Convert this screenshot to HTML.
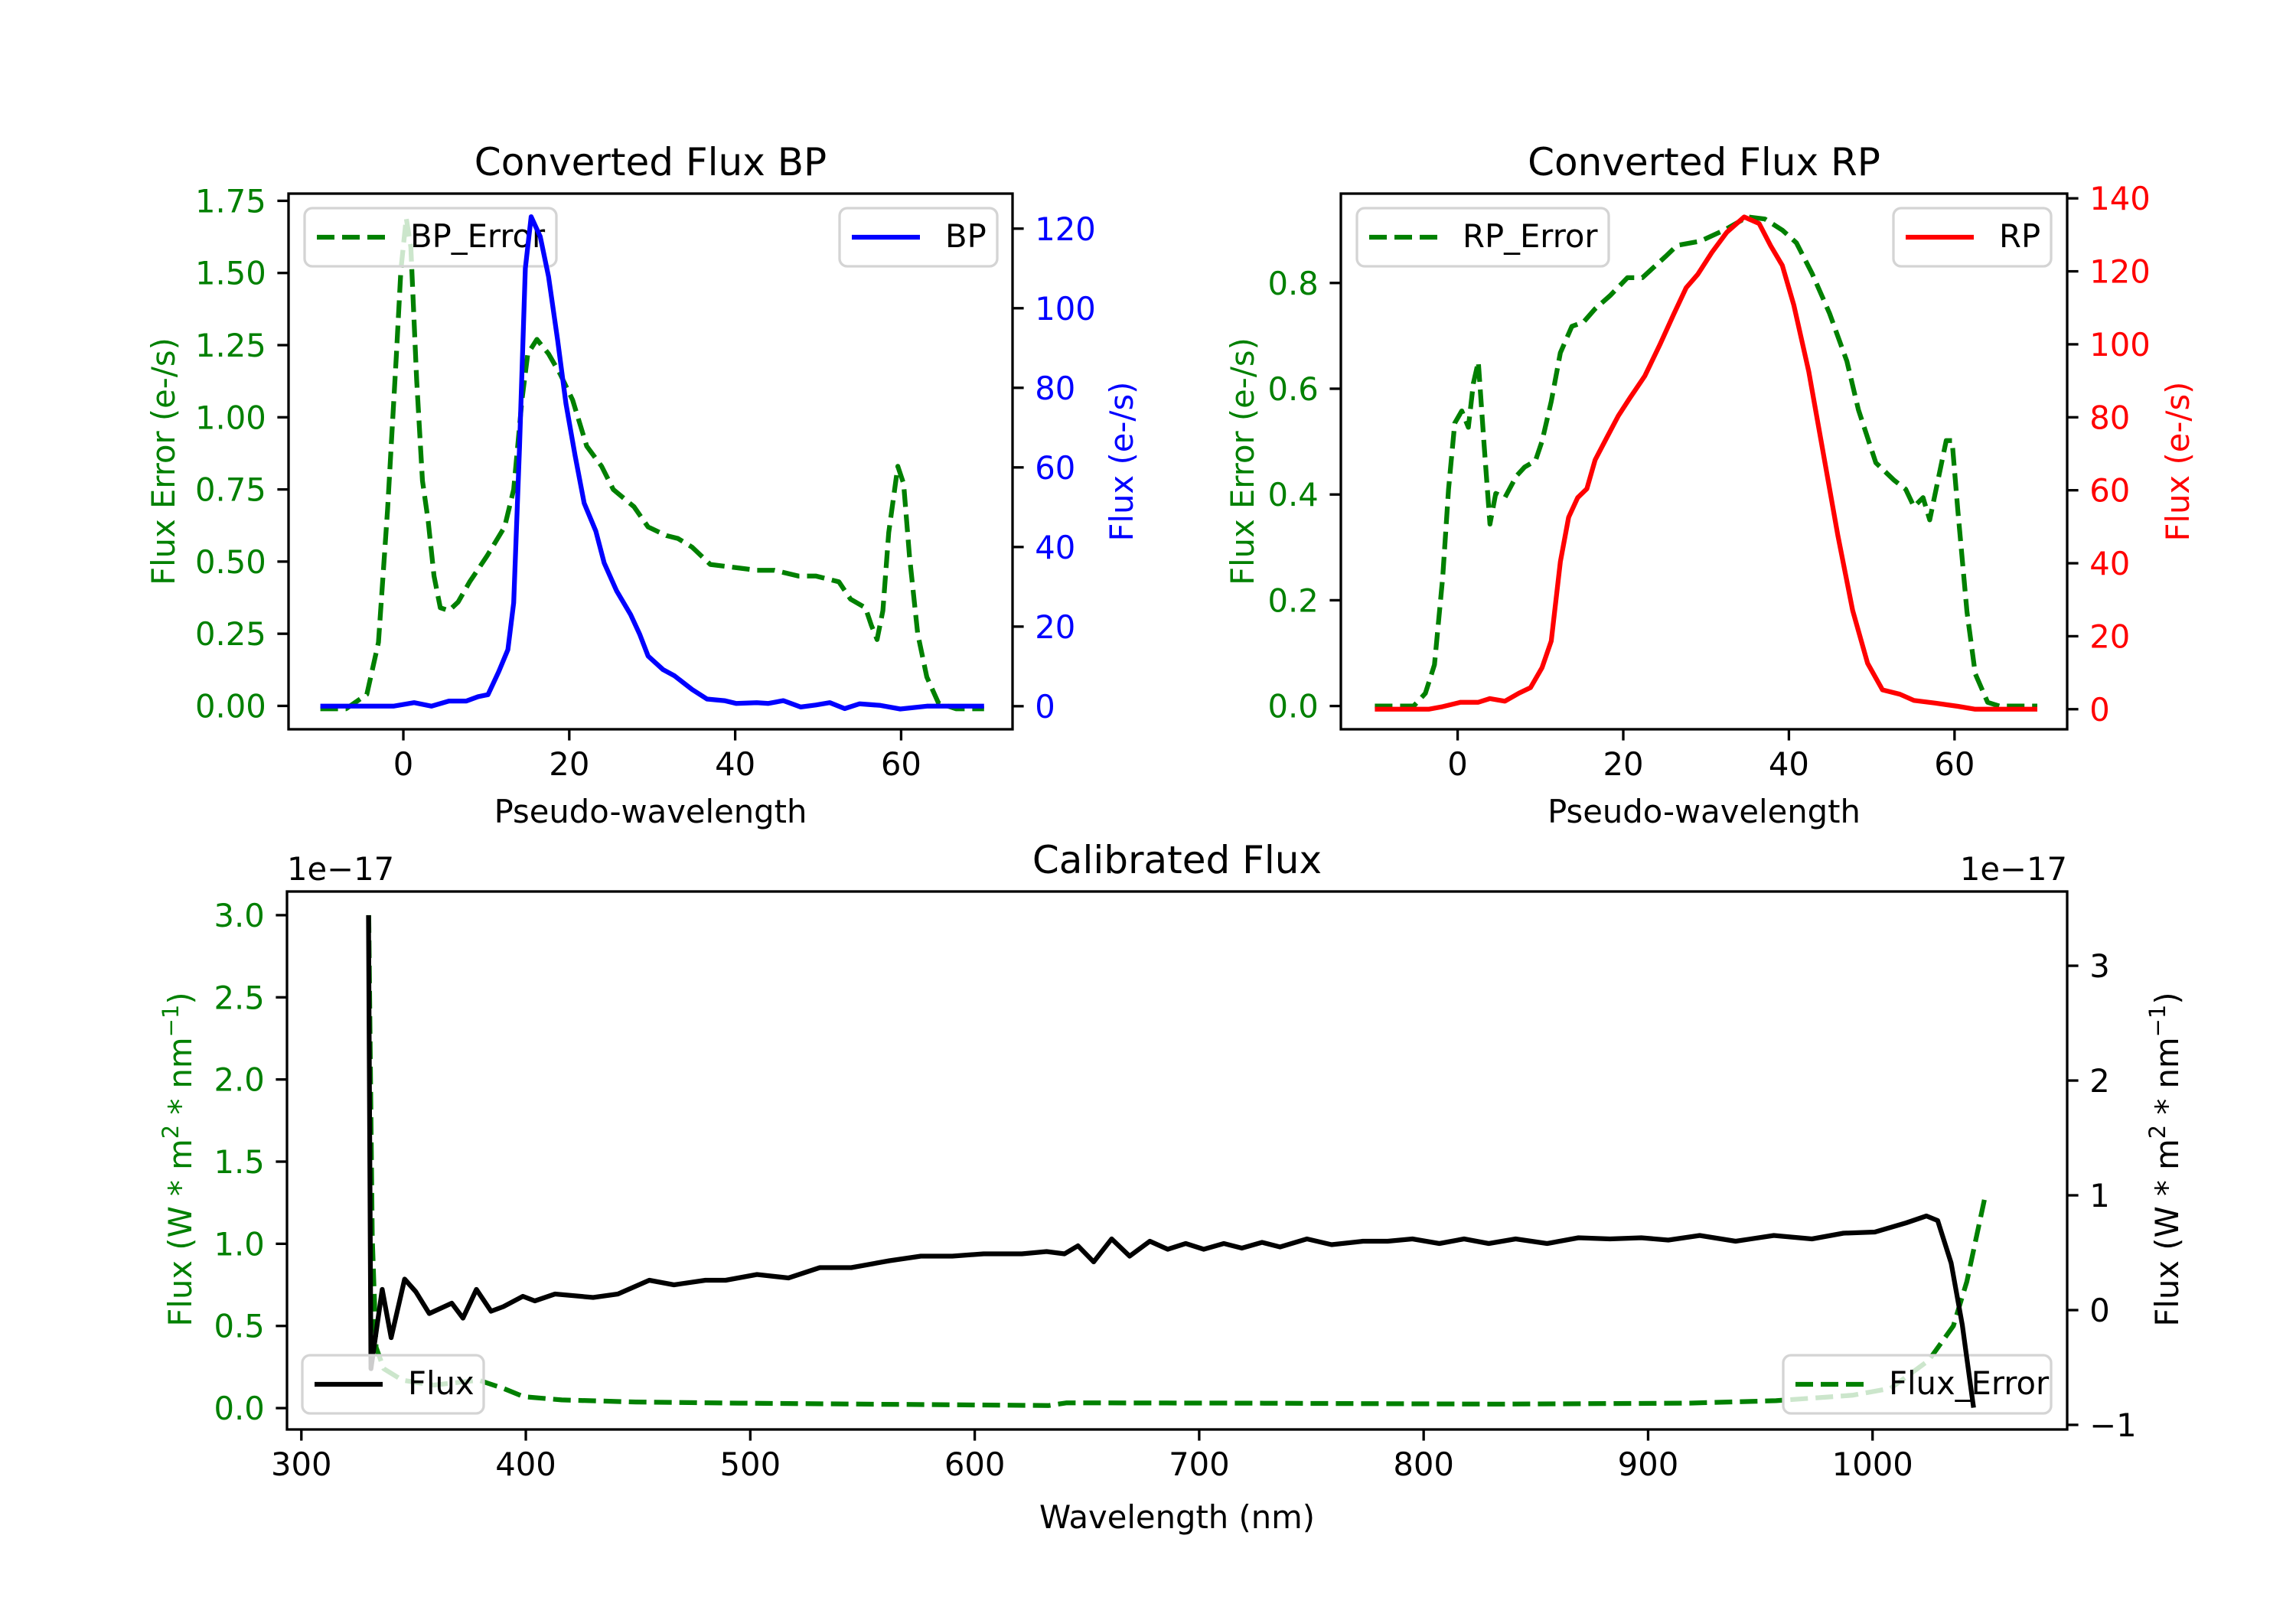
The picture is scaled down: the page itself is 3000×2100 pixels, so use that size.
<!DOCTYPE html>
<html><head><meta charset="utf-8"><style>
html,body{margin:0;padding:0;background:#fff}
svg{display:block;font-family:"DejaVu Sans","Liberation Sans",sans-serif}
</style></head><body>
<svg id="fig" xmlns="http://www.w3.org/2000/svg" width="3000" height="2100" viewBox="0 0 3000 2100"></svg>
<script>
// ---- BP panel data ----
const bpErrX=[-10,-6.9,-4.4,-3.0,-1.9,-0.85,-0.3,0.35,0.9,1.6,2.3,3.0,3.7,4.45,5.5,6.6,8.0,10.1,12.2,13.3,14.3,15.0,16.1,17.5,18.9,20.4,22.1,23.9,25.3,27.8,29.5,31.7,33.1,34.8,37.0,39.8,42.6,44.7,47.6,49.7,52.5,53.9,55.7,56.4,57.1,57.8,58.5,59.6,60.3,61.0,62.0,63.1,64.5,66.6,70];
const bpErrY=[-0.01,-0.01,0.04,0.22,0.68,1.21,1.51,1.69,1.59,1.13,0.78,0.64,0.45,0.34,0.33,0.36,0.43,0.52,0.62,0.75,1.06,1.22,1.27,1.22,1.15,1.06,0.90,0.83,0.75,0.69,0.62,0.59,0.58,0.55,0.49,0.48,0.47,0.47,0.45,0.45,0.43,0.37,0.34,0.28,0.23,0.33,0.60,0.83,0.77,0.52,0.25,0.10,0.01,-0.01,-0.01];
const bpX=[-10,-1.2,1.3,3.4,5.5,7.6,9.0,10.2,11.5,12.6,13.3,14.0,14.7,15.4,16.5,17.5,18.6,19.6,20.7,21.8,23.2,24.2,25.7,27.4,28.5,29.5,31.3,32.7,34.8,36.6,38.7,40.1,42.6,44.0,45.8,47.9,49.7,51.4,53.2,55.0,57.5,59.9,63.1,70];
const bpY=[0,0,0.9,0,1.3,1.3,2.4,2.9,8.7,14.2,26,65,110,123,118,108,92,76,63,51,44,36,29,23,18,12.6,9.2,7.6,4.2,1.8,1.4,0.7,0.9,0.7,1.4,-0.2,0.3,0.9,-0.6,0.6,0.2,-0.7,0,0];
const bpXTicks=[0,20,40,60];
const bpLTicks=[0,0.25,0.5,0.75,1.0,1.25,1.5,1.75];
const bpLLabels=["0.00","0.25","0.50","0.75","1.00","1.25","1.50","1.75"];
const bpRTicks=[0,20,40,60,80,100,120];
// ---- RP panel data ----
const rpErrX=[-10,-5.3,-3.9,-2.8,-1.8,-1.1,-0.35,0.5,1.3,1.9,2.5,3.2,3.9,4.6,5.7,7.1,8.1,9.4,10.2,11.3,12.4,13.8,15.2,16.6,18.4,20.5,22.3,23.7,25.1,26.5,29.3,32.2,35.0,37.1,39.2,40.9,42.8,44.9,47.0,48.4,50.5,52.7,54.1,55.1,56.2,57.0,58.0,59.0,59.7,60.4,61.5,62.5,64.0,65.4,70];
const rpErrY=[0,0,0.024,0.078,0.244,0.41,0.535,0.558,0.527,0.61,0.651,0.493,0.344,0.402,0.394,0.435,0.452,0.464,0.501,0.576,0.668,0.718,0.726,0.751,0.776,0.81,0.81,0.83,0.85,0.871,0.879,0.9,0.925,0.921,0.9,0.876,0.818,0.743,0.652,0.56,0.46,0.427,0.41,0.377,0.394,0.352,0.427,0.502,0.502,0.369,0.178,0.061,0.007,0,0];
const rpX=[-10,-3.5,-1.8,0.35,2.5,3.9,5.7,7.4,8.8,10.2,11.3,12.4,13.4,14.5,15.6,16.6,18.0,19.4,20.8,22.6,24.4,26.1,27.6,29.0,30.7,32.5,34.6,36.4,37.8,39.2,40.6,42.4,44.2,45.9,47.7,49.5,51.3,53.4,55.1,57.6,60.4,62.5,70];
const rpY=[0,0,0.7,1.9,1.9,2.9,2.2,4.4,5.9,11.4,18.7,40.4,52.6,58,60.4,68.3,74.4,80.4,85.3,91.3,99.8,108.3,115.5,119.2,125.2,130.7,134.9,133.1,127,121.6,110.7,92.5,69.5,47.7,27.1,12.6,5.3,4.1,2.4,1.7,0.8,0,0];
const rpXTicks=[0,20,40,60];
const rpLTicks=[0,0.2,0.4,0.6,0.8];
const rpLLabels=["0.0","0.2","0.4","0.6","0.8"];
const rpRTicks=[0,20,40,60,80,100,120,140];
// ---- Calibrated panel data ----
const calX=[329.9,331,336,340,346,351,357,367,372,378,384.5,390,398.7,404,413,430,441,455,466,480,489,503,517,531,545,562,576,590,604,621,632,640,646,653,661,669,678,686,694,702,711,719,728,736,748,759,773,784,795,807,818,829,841,855,869,883,897,909,923,939,956,973,987,1001,1015,1024,1029,1035,1040,1045];
const calY=[3.44,-0.51,0.18,-0.24,0.27,0.16,-0.03,0.06,-0.07,0.18,-0.01,0.03,0.12,0.08,0.14,0.11,0.14,0.26,0.22,0.26,0.26,0.31,0.28,0.37,0.37,0.43,0.47,0.47,0.49,0.49,0.51,0.49,0.56,0.42,0.62,0.47,0.60,0.53,0.58,0.53,0.58,0.54,0.59,0.55,0.62,0.57,0.60,0.60,0.62,0.58,0.62,0.58,0.62,0.58,0.63,0.62,0.63,0.61,0.65,0.60,0.65,0.62,0.67,0.68,0.76,0.82,0.78,0.41,-0.13,-0.85];
const calErrX=[330,331.6,333.3,336.7,345,359,379,390,399,416,449,495,551,633,641,720,833,918,957,991,1008,1025,1036,1042,1050];
const calErrY=[3.0,1.04,0.37,0.24,0.17,0.14,0.17,0.12,0.07,0.05,0.037,0.03,0.024,0.016,0.032,0.03,0.024,0.03,0.045,0.078,0.12,0.29,0.5,0.77,1.28];
const calXTicks=[300,400,500,600,700,800,900,1000];
const calLTicks=[0,0.5,1.0,1.5,2.0,2.5,3.0];
const calLLabels=["0.0","0.5","1.0","1.5","2.0","2.5","3.0"];
const calRTicks=[-1,0,1,2,3];
const calRLabels=["\u22121","0","1","2","3"];

const NS="http://www.w3.org/2000/svg";
const svg=document.getElementById('fig');
const GREEN="#008000";
const FS=41.7, LW=6.25, SW=3.3, TL=14.6, DASH='23,10';
function mk(tag,attrs,parent){const e=document.createElementNS(NS,tag);for(const k in attrs)e.setAttribute(k,attrs[k]);(parent||svg).appendChild(e);return e;}
function txt(s,attrs,parent){const e=mk('text',attrs,parent);e.textContent=s;return e;}
function scale(d0,d1,p0,p1){return v=>p0+(v-d0)/(d1-d0)*(p1-p0);}
let clipN=0;
function pathD(xs,ys,sx,sy){return xs.map((x,i)=>(i?'L':'M')+sx(x).toFixed(1)+','+sy(ys[i]).toFixed(1)).join(' ');}
function clip(L,T,R,B){const id='c'+(clipN++);const cp=mk('clipPath',{id:id});mk('rect',{x:L,y:T,width:R-L,height:B-T},cp);return 'url(#'+id+')';}
function legend(spec,name){
  const [x,y,w,h,label,color,dashed]=spec;
  const g=mk('g',{});
  
  
  mk('rect',{x:x,y:y,width:w,height:h,rx:10,fill:'#fff','fill-opacity':0.8,stroke:'#d4d4d4','stroke-width':3.3},g);
  const a={x1:x+16,x2:x+105,y1:y+h/2,y2:y+h/2,stroke:color,'stroke-width':LW};
  if(dashed)a['stroke-dasharray']=DASH;
  mk('line',a,g);
  txt(label,{x:x+138,y:y+h/2+13,'font-size':FS,fill:'#000'},g);
  return g;
}
function panel(o){
  const {L,T,R,B}=o;
  const sx=scale(o.xlim[0],o.xlim[1],L,R);
  const syL=scale(o.ylL[0],o.ylL[1],B,T);
  const syR=scale(o.ylR[0],o.ylR[1],B,T);
  const cp=clip(L,T,R,B);
  const drawL=()=>{const g1=mk('path',{d:pathD(o.lx,o.ly,sx,syL),fill:'none',stroke:o.lcolor,'stroke-width':LW,'clip-path':cp,'stroke-linejoin':'round'});
    if(o.ldash)g1.setAttribute('stroke-dasharray',DASH);
    
    };
  const drawR=()=>{const g2=mk('path',{d:pathD(o.rx,o.ry,sx,syR),fill:'none',stroke:o.rcolor,'stroke-width':LW,'clip-path':cp,'stroke-linejoin':'round'});
    if(o.rdash)g2.setAttribute('stroke-dasharray',DASH);
    
    };
  drawL();
  legend(o.legA,o.legA[7]);
  drawR();
  legend(o.legB,o.legB[7]);
  const fr=mk('rect',{x:L,y:T,width:R-L,height:B-T,fill:'none',stroke:'#000','stroke-width':SW});
  
  
  o.xt.forEach(v=>{const x=sx(v);mk('line',{x1:x,x2:x,y1:B,y2:B+TL,stroke:'#000','stroke-width':SW});
    const t=txt(String(v),{x:x,y:B+TL+14.6+31,'font-size':FS,'text-anchor':'middle',fill:'#000'});
    
    });
  o.ltk.forEach((v,i)=>{const y=syL(v);mk('line',{x1:L,x2:L-TL,y1:y,y2:y,stroke:'#000','stroke-width':SW});
    const t=txt(o.ltl[i],{x:L-TL-14.6,y:y+15,'font-size':FS,'text-anchor':'end',fill:o.ltcolor});
    
    });
  o.rtk.forEach((v,i)=>{const y=syR(v);mk('line',{x1:R,x2:R+TL,y1:y,y2:y,stroke:'#000','stroke-width':SW});
    const t=txt(o.rtl[i],{x:R+TL+14.6,y:y+15,'font-size':FS,'text-anchor':'start',fill:o.rtcolor});
    
    });
  const tt=txt(o.title,{x:(L+R)/2,y:T-24,'font-size':50,'text-anchor':'middle',fill:'#000'});
  
  
  const xl=txt(o.xlabel,{x:(L+R)/2,y:o.xly,'font-size':FS,'text-anchor':'middle',fill:'#000'});
  
  
}
function ylabel(s,x,y,color,name){const t=txt('',{x:0,y:0,'font-size':FS,'text-anchor':'middle',fill:color,transform:`translate(${x},${y}) rotate(-90)`});
  if(Array.isArray(s)){s.forEach(p=>{const ts=mk('tspan',p[1]?{'baseline-shift':'super','font-size':29}:{},t);ts.textContent=p[0];});}else t.textContent=s;
  
  }

panel({id:'bp',L:377,T:253,R:1323,B:953,xlim:[-13.84,73.43],ylL:[-0.081,1.775],ylR:[-5.8,128.8],
  lx:bpErrX,ly:bpErrY,lcolor:GREEN,ldash:true,rx:bpX,ry:bpY,rcolor:'#0000ff',rdash:false,ltcolor:GREEN,rtcolor:'#0000ff',lname:'bp-error-line',rname:'bp-line',
  legA:[398,272,329,76,'BP_Error',GREEN,true,'bp-error-legend'],legB:[1097,272,206,76,'BP','#0000ff',false,'bp-legend'],
  xt:bpXTicks,ltk:bpLTicks,ltl:bpLLabels,rtk:bpRTicks,rtl:bpRTicks.map(String),title:'Converted Flux BP',xlabel:'Pseudo-wavelength',xly:1075});
ylabel('Flux Error (e-/s)',228,603,GREEN,'bp-left-y-axis-title');
ylabel('Flux (e-/s)',1480,603,'#0000ff','bp-right-y-axis-title');

panel({id:'rp',L:1752,T:253,R:2701,B:953,xlim:[-14.1,73.6],ylL:[-0.044,0.969],ylR:[-5.5,141.3],
  lx:rpErrX,ly:rpErrY,lcolor:GREEN,ldash:true,rx:rpX,ry:rpY,rcolor:'#ff0000',rdash:false,ltcolor:GREEN,rtcolor:'#ff0000',lname:'rp-error-line',rname:'rp-line',
  legA:[1773,272,329,76,'RP_Error',GREEN,true,'rp-error-legend'],legB:[2474,272,206,76,'RP','#ff0000',false,'rp-legend'],
  xt:rpXTicks,ltk:rpLTicks,ltl:rpLLabels,rtk:rpRTicks,rtl:rpRTicks.map(String),title:'Converted Flux RP',xlabel:'Pseudo-wavelength',xly:1075});
ylabel('Flux Error (e-/s)',1638,603,GREEN,'rp-left-y-axis-title');
ylabel('Flux (e-/s)',2860,603,'#ff0000','rp-right-y-axis-title');

panel({id:'cal',L:375,T:1165,R:2701,B:1868,xlim:[293.6,1086.7],ylL:[-0.13,3.144],ylR:[-1.04,3.647],
  lx:calErrX,ly:calErrY,lcolor:GREEN,ldash:true,rx:calX,ry:calY,rcolor:'#000',rdash:false,ltcolor:GREEN,rtcolor:'#000',lname:'flux-error-line',rname:'flux-line',
  legA:[2330,1771,350,76,'Flux_Error',GREEN,true,'flux-error-legend'],legB:[395,1771,237,76,'Flux','#000',false,'flux-legend'],
  xt:calXTicks,ltk:calLTicks,ltl:calLLabels,rtk:calRTicks,rtl:calRLabels,title:'Calibrated Flux',xlabel:'Wavelength (nm)',xly:1997});
const o1=txt('1e\u221217',{x:375,y:1150,'font-size':FS,'text-anchor':'start',fill:'#000'});


const o2=txt('1e\u221217',{x:2701,y:1150,'font-size':FS,'text-anchor':'end',fill:'#000'});


ylabel([['Flux (W * m',0],['2',1],[' * nm',0],['\u22121',1],[')',0]],250,1515,GREEN,'cal-left-y-axis-title');
ylabel([['Flux (W * m',0],['2',1],[' * nm',0],['\u22121',1],[')',0]],2846,1515,'#000','cal-right-y-axis-title');
</script>
</body></html>
